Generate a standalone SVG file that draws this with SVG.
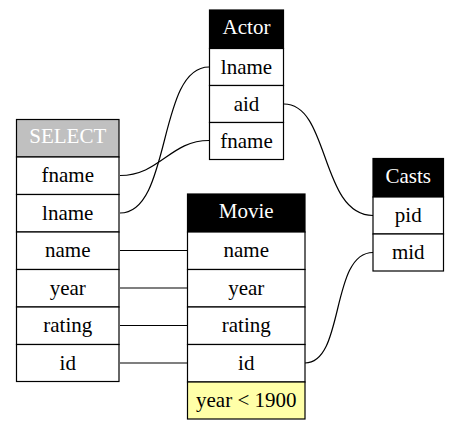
<svg xmlns="http://www.w3.org/2000/svg" width="459" height="429" viewBox="0 0 459 429">
<style>
rect{stroke:#000;stroke-width:1.2;fill:#fff}
rect.hd{fill:#000}
rect.sel{fill:#c0c0c0}
rect.cond{fill:#ffffa8}
text{font-family:"Liberation Serif","Times New Roman",serif;font-size:21px;text-anchor:middle;fill:#000}
text.h{fill:#fff}
#edges path{fill:none;stroke:#000;stroke-width:1.2}
</style>
<rect x="0" y="0" width="459" height="429" style="fill:#fff;stroke:none"/>
<g id="edges">
<path d="M120,175.5 C160,175.5 170,140.5 209,140.5"/>
<path d="M120,213 C172,213 157,67 209,67"/>
<path d="M120,250.5 H187"/>
<path d="M120,288 H187"/>
<path d="M120,325.5 H187"/>
<path d="M120,363 H187"/>
<path d="M284,104 C330,104 320,215.5 373,215.5"/>
<path d="M305,363 C345,363 330,252.5 373,252.5"/>
</g>
<g id="select">
<rect class="sel" x="16.5" y="119.5" width="102.5" height="37.5"/>
<text class="h" x="67.75" y="143">SELECT</text>
<rect x="16.5" y="157" width="102.5" height="37.5"/>
<text x="67.75" y="182">fname</text>
<rect x="16.5" y="194.5" width="102.5" height="37.5"/>
<text x="67.75" y="219.5">lname</text>
<rect x="16.5" y="232" width="102.5" height="37.5"/>
<text x="67.75" y="257">name</text>
<rect x="16.5" y="269.5" width="102.5" height="37.5"/>
<text x="67.75" y="294.5">year</text>
<rect x="16.5" y="307" width="102.5" height="37.5"/>
<text x="67.75" y="332">rating</text>
<rect x="16.5" y="344.5" width="102.5" height="37"/>
<text x="67.75" y="369.5">id</text>
</g>
<g id="actor">
<rect class="hd" x="209.5" y="10" width="74" height="38.5"/>
<text class="h" x="246.5" y="34">Actor</text>
<rect x="209.5" y="48.5" width="74" height="37"/>
<text x="246.5" y="73.5">lname</text>
<rect x="209.5" y="85.5" width="74" height="37"/>
<text x="246.5" y="110.5">aid</text>
<rect x="209.5" y="122.5" width="74" height="37"/>
<text x="246.5" y="147.5">fname</text>
</g>
<g id="movie">
<rect class="hd" x="187.5" y="194" width="117.5" height="38"/>
<text class="h" x="246.25" y="218">Movie</text>
<rect x="187.5" y="232" width="117.5" height="37.5"/>
<text x="246.25" y="257">name</text>
<rect x="187.5" y="269.5" width="117.5" height="37.5"/>
<text x="246.25" y="294.5">year</text>
<rect x="187.5" y="307" width="117.5" height="37.5"/>
<text x="246.25" y="332">rating</text>
<rect x="187.5" y="344.5" width="117.5" height="37.5"/>
<text x="246.25" y="369.5">id</text>
<rect class="cond" x="187.5" y="382" width="117.5" height="37"/>
<text x="246.25" y="407">year &lt; 1900</text>
</g>
<g id="casts">
<rect class="hd" x="373" y="158.5" width="70.5" height="38.5"/>
<text class="h" x="408.25" y="182.5">Casts</text>
<rect x="373" y="197" width="70.5" height="37"/>
<text x="408.25" y="222">pid</text>
<rect x="373" y="234" width="70.5" height="37"/>
<text x="408.25" y="259">mid</text>
</g>
</svg>
